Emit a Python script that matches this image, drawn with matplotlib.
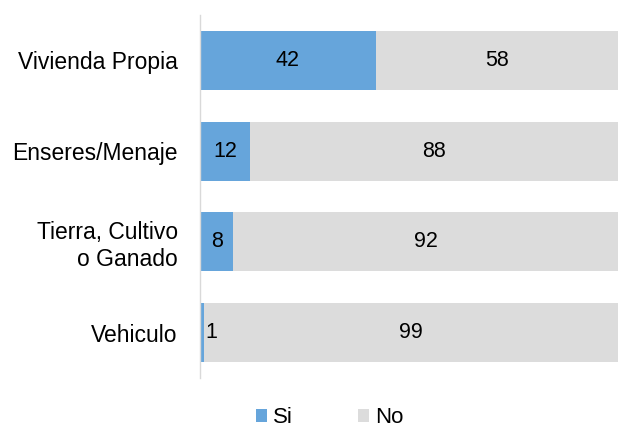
import numpy as np
import matplotlib
matplotlib.use("Agg")
from matplotlib import pyplot as plt

# data
categorias = ["Vivienda Propia", "Enseres/Menaje", "Tierra, Cultivo\no Ganado", "Vehiculo"]
si = [42, 12, 8, 1]
no = [58, 88, 92, 99]

color_si = "#66a5db"
color_no = "#dcdcdc"

plt.rcParams["font.family"] = ["Liberation Sans", "DejaVu Sans"]

fig = plt.figure(figsize=(6.2, 4.26), dpi=100)
ax = fig.add_axes([0.3226, 0.1127, 0.6745, 0.852])

y = np.arange(len(categorias))
h = 0.65
ax.barh(y, si, height=h, color=color_si, label="Si")
ax.barh(y, no, left=si, height=h, color=color_no, label="No")

for i in range(len(categorias)):
    if si[i] >= 5:
        ax.text(si[i] / 2, y[i], str(si[i]), ha="center", va="center", fontsize=15.5)
    else:
        ax.text(si[i] + 0.2, y[i], str(si[i]), ha="left", va="center", fontsize=15.5)
    ax.text(si[i] + no[i] / 2, y[i], str(no[i]), ha="center", va="center", fontsize=15.5)

ax.set_xlim(0, 100)
ax.set_ylim(len(categorias) - 0.5, -0.5)
ax.set_yticks(y)
ax.set_yticklabels(categorias, fontsize=16.5, ha="right")
ax.tick_params(axis="y", length=0, pad=16)
ax.set_xticks([])
for s in ["top", "right", "bottom"]:
    ax.spines[s].set_visible(False)
ax.spines["left"].set_color("#d9d9d9")
ax.spines["left"].set_linewidth(1)

ax.legend(loc="center", bbox_to_anchor=(0.31, -0.11), ncol=2, frameon=False,
          fontsize=16, handlelength=0.5, handleheight=0.5, handletextpad=0.3,
          columnspacing=2.9)

fig.savefig("out.png", dpi=100)
